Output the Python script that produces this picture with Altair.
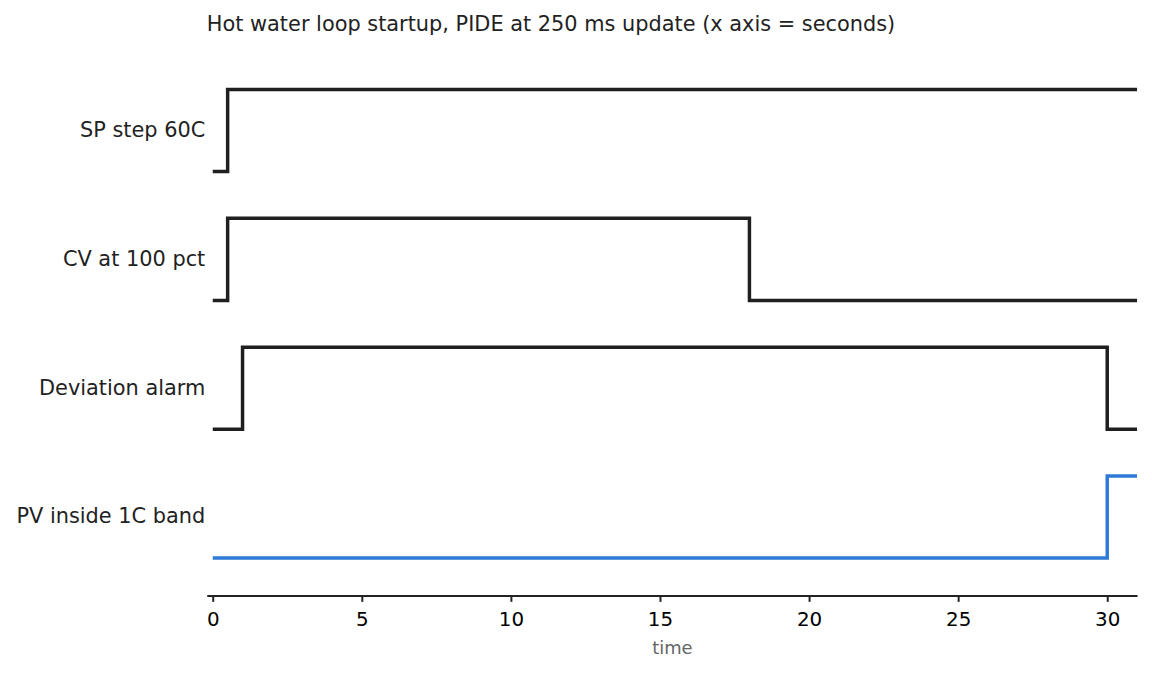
import altair as alt
import pandas as pd

# signal names, top to bottom
signals = ["SP step 60C", "CV at 100 pct", "Deviation alarm", "PV inside 1C band"]

# transition times (s) and logic levels for each signal
times = [
    [0, 0.5, 31],
    [0, 0.5, 18, 31],
    [0, 1, 30, 31],
    [0, 30, 31],
]
levels = [
    [0, 1, 1],
    [0, 1, 0, 0],
    [0, 1, 0, 0],
    [0, 1, 1],
]
colors = ["#1f1f1f", "#1f1f1f", "#1f1f1f", "#2f7ad6"]

row_gap = 1.57  # vertical spacing between traces

rows = []
for i, name in enumerate(signals):
    offset = (len(signals) - 1 - i) * row_gap
    for t, v in zip(times[i], levels[i]):
        rows.append({"signal": name, "time": t, "y": offset + v})
data = pd.DataFrame(rows)

mids = [(len(signals) - 1 - i) * row_gap + 0.5 for i in range(len(signals))]
names_js = "[" + ",".join("'%s'" % s for s in reversed(signals)) + "]"

chart = alt.Chart(data).mark_line(
    interpolate="step-after", strokeWidth=3.5, strokeJoin="miter", strokeCap="butt"
).encode(
    x=alt.X("time:Q", title="time",
            scale=alt.Scale(domain=[-0.2, 31], nice=False, zero=False),
            axis=alt.Axis(values=[0, 5, 10, 15, 20, 25, 30], grid=False,
                          domainColor="#222", domainWidth=2, tickColor="#222",
                          tickWidth=2, tickSize=6, labelColor="#000",
                          labelFontSize=20, titleFontSize=18, titleColor="#666",
                          titleFontWeight="normal", labelPadding=8, titlePadding=10)),
    y=alt.Y("y:Q", title=None,
            scale=alt.Scale(domain=[-0.455, 6.195], nice=False, zero=False),
            axis=alt.Axis(values=mids, grid=False, domain=False, ticks=False,
                          labelExpr=names_js + "[round((datum.value - 0.5) / %s)]" % row_gap,
                          labelColor="#222", labelFontSize=21, labelPadding=2,
                          labelLimit=400)),
    color=alt.Color("signal:N", scale=alt.Scale(domain=signals, range=colors), legend=None),
    detail="signal:N",
).properties(
    width=936,
    height=549,
    padding={"left": 7, "top": 4, "right": 0, "bottom": 0},
    title=alt.TitleParams("Hot water loop startup, PIDE at 250 ms update (x axis = seconds)",
                          anchor="start", frame="group", fontSize=21,
                          fontWeight="normal", color="#222", offset=15),
).configure(
    font="DejaVu Sans",
).configure_view(
    stroke=None
)

chart.save("out.html", embed_options={"renderer": "svg", "actions": False})
